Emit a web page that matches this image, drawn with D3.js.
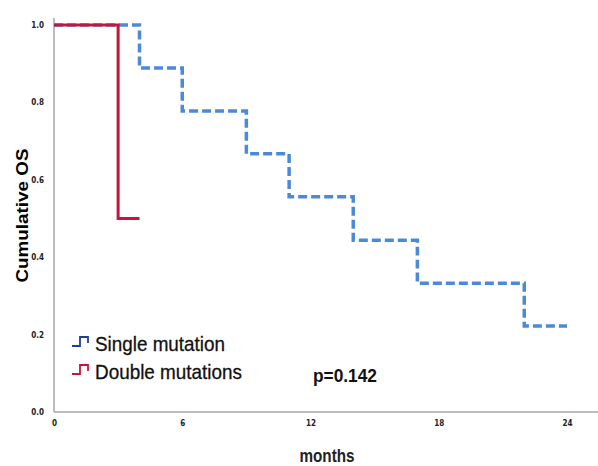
<!DOCTYPE html>
<html>
<head>
<meta charset="utf-8">
<script src="https://cdn.jsdelivr.net/npm/d3@7"></script>
<style>
  body { margin: 0; background: #fff; }
  svg { display: block; }
</style>
</head>
<body>
<svg id="chart"></svg>
<script>
// survival steps
const singleMonths = [0, 4, 6, 9, 11, 14, 17, 22, 24];
const singleSurv = [1, 0.889, 0.778, 0.667, 0.556, 0.444, 0.333, 0.222, 0.222];
const doubleMonths = [0, 3, 4];
const doubleSurv = [1, 0.5, 0.5];

const xTicks = [0, 6, 12, 18, 24];
const yTicks = [0, 0.2, 0.4, 0.6, 0.8, 1.0];
const groups = ["Single mutation", "Double mutations"];
const pText = "p=0.142";

const width = 598, height = 466;
const svg = d3.select("#chart").attr("width", width).attr("height", height);

const x = d3.scaleLinear().domain([0, 24]).range([54, 567]);
const y = d3.scaleLinear().domain([0, 1]).range([412, 25]);

const tickFont = "'Liberation Sans Narrow', 'DejaVu Sans Condensed', 'Liberation Sans', sans-serif";

// axis frame lines
svg.append("line")
    .attr("x1", x(0)).attr("x2", width)
    .attr("y1", y(0)).attr("y2", y(0))
    .attr("stroke", "#a6a6a6").attr("stroke-width", 1.5);
svg.append("line")
    .attr("x1", x(0)).attr("x2", x(0))
    .attr("y1", y(0)).attr("y2", 18)
    .attr("stroke", "#a6a6a6").attr("stroke-width", 1.5);

// y tick labels
const yAxis = d3.axisLeft(y).tickValues(yTicks).tickSize(0).tickPadding(10).tickFormat(d3.format(".1f"));
svg.append("g")
    .attr("transform", `translate(${x(0)},0)`)
    .call(yAxis)
    .call(g => g.select(".domain").remove())
    .selectAll("text")
    .attr("font-family", tickFont)
    .attr("font-weight", "bold")
    .attr("font-size", 8)
    .attr("fill", "#222");

// x tick labels
const xAxis = d3.axisBottom(x).tickValues(xTicks).tickSize(0).tickPadding(8).tickFormat(d3.format("d"));
svg.append("g")
    .attr("transform", `translate(0,${y(0)})`)
    .call(xAxis)
    .call(g => g.select(".domain").remove())
    .selectAll("text")
    .attr("font-family", tickFont)
    .attr("font-weight", "bold")
    .attr("font-size", 8)
    .attr("fill", "#222");

// survival curves
const line = d3.line()
    .x(d => x(d[0]))
    .y(d => y(d[1]))
    .curve(d3.curveStepAfter);

svg.append("path")
    .attr("fill", "none")
    .attr("stroke", "#4a8ad6")
    .attr("stroke-width", 3.5)
    .attr("stroke-dasharray", "9,4")
    .attr("d", line(d3.zip(singleMonths, singleSurv)));

svg.append("path")
    .attr("fill", "none")
    .attr("stroke", "#c8143c")
    .attr("stroke-width", 3)
    .attr("d", line(d3.zip(doubleMonths, doubleSurv)));

// axis titles
svg.append("text")
    .attr("transform", `translate(28,${y(0.5) - 3}) rotate(-90)`)
    .attr("text-anchor", "middle")
    .attr("font-family", "'Liberation Sans', Arial, sans-serif")
    .attr("font-weight", "bold")
    .attr("font-size", 17)
    .attr("textLength", 134)
    .attr("lengthAdjust", "spacingAndGlyphs")
    .text("Cumulative OS");

svg.append("text")
    .attr("x", 327)
    .attr("y", 462)
    .attr("text-anchor", "middle")
    .attr("font-family", "'Liberation Sans', sans-serif")
    .attr("font-size", 19)
    .attr("font-weight", "bold")
    .attr("fill", "#222")
    .attr("textLength", 55)
    .attr("lengthAdjust", "spacingAndGlyphs")
    .text("months");

// legend
const legendColors = ["#1f3f8f", "#c8143c"];
const legendWidths = [130, 147];
const legend = svg.append("g")
    .selectAll("g")
    .data(groups)
    .join("g")
    .attr("transform", (d, i) => `translate(72,${351 + i * 28})`);

legend.append("path")
    .attr("fill", "none")
    .attr("stroke", (d, i) => legendColors[i])
    .attr("stroke-width", 1.8)
    .attr("d", "M0,-5 H8 V-14 H16 V-8");

legend.append("text")
    .attr("x", 23)
    .attr("font-family", "'Liberation Sans', sans-serif")
    .attr("font-size", 21)
    .attr("fill", "#111")
    .attr("stroke", "#111")
    .attr("stroke-width", 0.3)
    .attr("textLength", (d, i) => legendWidths[i])
    .attr("lengthAdjust", "spacingAndGlyphs")
    .text(d => d);

svg.append("text")
    .attr("x", 313)
    .attr("y", 382)
    .attr("font-family", "'Liberation Sans', Arial, sans-serif")
    .attr("font-size", 19)
    .attr("font-weight", "bold")
    .attr("fill", "#111")
    .attr("textLength", 64)
    .attr("lengthAdjust", "spacingAndGlyphs")
    .text(pText);
</script>
</body>
</html>
